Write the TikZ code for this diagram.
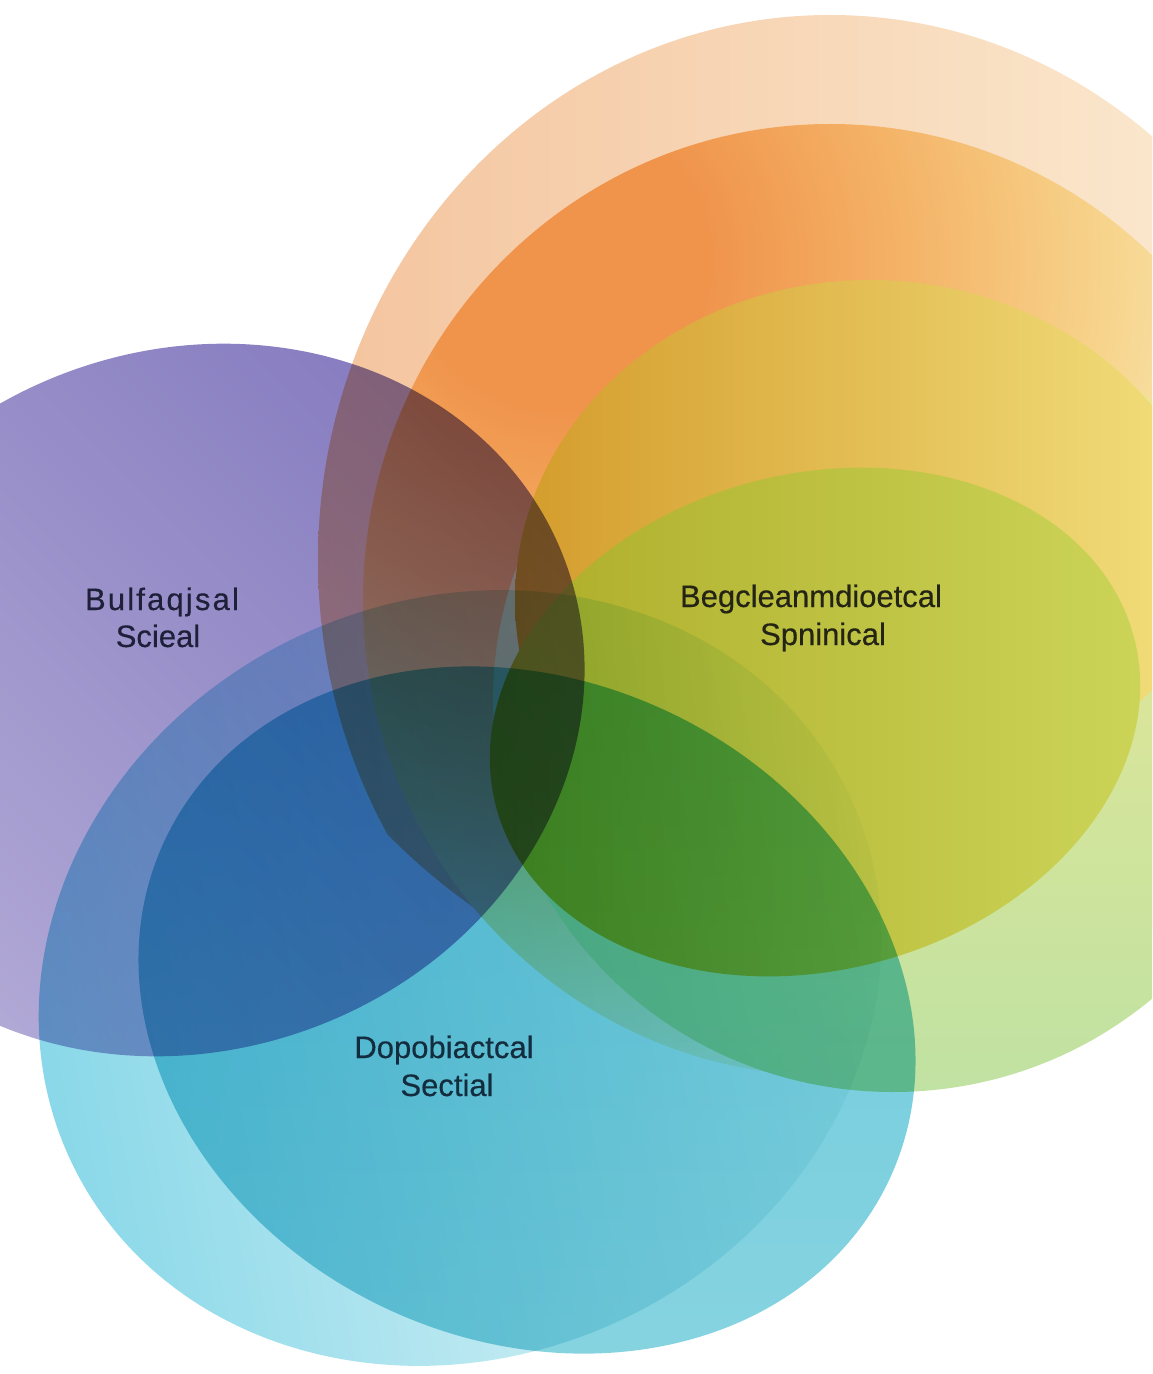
\documentclass[tikz,border=0pt]{standalone}
\usepackage{fontspec}
\setmainfont{Liberation Sans}
\newfontfamily\labelfont[FakeBold=0.4]{Liberation Sans}
\newfontfamily\labelfontwide[FakeBold=0.4,LetterSpace=7]{Liberation Sans}

% palette
\definecolor{pL}{RGB}{244,196,158}
\definecolor{pR}{RGB}{252,238,214}
\definecolor{oA}{RGB}{240,148,76}
\definecolor{oB}{RGB}{244,180,104}
\definecolor{oC}{RGB}{247,212,140}
\definecolor{oD}{RGB}{248,234,186}
\definecolor{oE}{RGB}{252,248,232}
\definecolor{lgTop}{RGB}{242,232,145}
\definecolor{lgMid}{RGB}{222,230,152}
\definecolor{lgBot}{RGB}{192,226,162}
\definecolor{goldL}{RGB}{212,156,44}
\definecolor{goldR}{RGB}{243,226,128}
\definecolor{ygL}{RGB}{172,170,38}
\definecolor{ygR}{RGB}{205,214,90}
\definecolor{purTop}{RGB}{134,124,192}
\definecolor{purBot}{RGB}{180,172,215}
\definecolor{xL}{RGB}{132,214,232}
\definecolor{xR}{RGB}{248,252,250}
\definecolor{yTop}{RGB}{104,200,222}
\definecolor{yBot}{RGB}{136,212,224}
\definecolor{inkNavy}{RGB}{30,32,58}
\definecolor{inkTeal}{RGB}{20,45,62}
\definecolor{inkOlive}{RGB}{36,36,22}

% warm glow for the orange disc, centred on its upper-left part
\pgfdeclareradialshading{orangeglow}{\pgfpoint{0bp}{0bp}}{%
  color(0bp)=(oA); color(3.75bp)=(oA); color(8.75bp)=(oB);
  color(13.75bp)=(oC); color(17.5bp)=(oD); color(21.25bp)=(oE);
  color(50bp)=(oE)}

\tikzset{
  label text/.style={anchor=base, inner sep=0pt},
}

\begin{document}
\begin{tikzpicture}[x=0.5pt,y=-0.5pt]
\useasboundingbox (0,0) rectangle (1152,1374);
\clip (0,0) rectangle (1152,1374);

% --- warm family (stacked, opaque) ---
% outer peach halo (its foot is tucked under the orange disc)
\begin{scope}
  \clip (830,400) circle [radius=620];
  \shade[left color=pL, right color=pR] (830,560) ellipse [x radius=512, y radius=545];
\end{scope}
% orange disc
\begin{scope}
  \clip (830,600) ellipse [x radius=467, y radius=476];
  \shade[shading=orangeglow] (-440,-740) rectangle (1560,1260);
\end{scope}
% pale green disc
\shade[top color=lgTop, middle color=lgMid, bottom color=lgBot]
  (893,700) ellipse [x radius=400, y radius=392];
% gold disc (lower part hidden under the yellow-green disc)
\begin{scope}
  \clip (0,0) -- (1152,0) -- (1152,690) -- (1120,720) -- (1060,812)
    -- (980,882) -- (880,955) -- (700,925) -- (560,830) -- (0,830) -- cycle;
  \shade[left color=goldL, right color=goldR]
    (870,600) ellipse [x radius=355, y radius=320];
\end{scope}
% yellow-green disc
\shade[left color=ygL, right color=ygR, rotate around={15:(815,722)}]
  (815,722) ellipse [x radius=330, y radius=248];

% --- cool family, multiplied over everything ---
\begin{scope}[blend mode=multiply]
  \shade[top color=purTop, bottom color=purBot, shading angle=-45,
         rotate around={20:(190,700)}]
    (190,700) ellipse [x radius=400, y radius=350];
  \shade[left color=xL, right color=xR, shading angle=100,
         rotate around={25:(460,978)}]
    (460,978) ellipse [x radius=430, y radius=378];
  \shade[top color=yTop, bottom color=yBot, rotate around={-25:(527,1010)}]
    (527,1010) ellipse [x radius=400, y radius=330];
\end{scope}

% --- labels ---
\node[label text, text=inkNavy, font=\labelfontwide\fontsize{15.5}{18}\selectfont]
  (bio1) at (162,610) {Bulfaqjsal};
\node[label text, text=inkNavy, font=\labelfont\fontsize{15.5}{18}\selectfont]
  (bio2) at (158,647) {Scieal};
\node[label text, text=inkOlive, font=\labelfont\fontsize{15.5}{18}\selectfont]
  (beh1) at (811,607) {Begcleanmdioetcal};
\node[label text, text=inkOlive, font=\labelfont\fontsize{15.5}{18}\selectfont]
  (beh2) at (823,645) {Spninical};
\node[label text, text=inkTeal, font=\labelfont\fontsize{15.5}{18}\selectfont]
  (dep1) at (444,1058) {Dopobiactcal};
\node[label text, text=inkTeal, font=\labelfont\fontsize{15.5}{18}\selectfont]
  (dep2) at (447,1096) {Sectial};
\end{tikzpicture}
\end{document}
